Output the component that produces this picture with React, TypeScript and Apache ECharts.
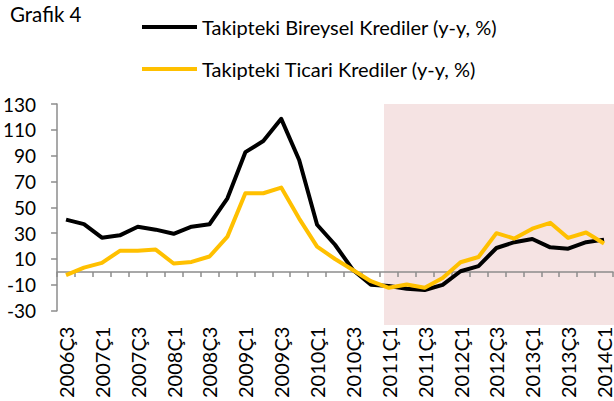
import React, { useEffect, useRef } from "react";
import * as echarts from "echarts";

const categories: string[] = [
  "2006Ç3", "2006Ç4", "2007Ç1", "2007Ç2", "2007Ç3", "2007Ç4", "2008Ç1", "2008Ç2",
  "2008Ç3", "2008Ç4", "2009Ç1", "2009Ç2", "2009Ç3", "2009Ç4", "2010Ç1", "2010Ç2",
  "2010Ç3", "2010Ç4", "2011Ç1", "2011Ç2", "2011Ç3", "2011Ç4", "2012Ç1", "2012Ç2",
  "2012Ç3", "2012Ç4", "2013Ç1", "2013Ç2", "2013Ç3", "2013Ç4", "2014C1",
];

const bireysel: number[] = [
  40.5, 37, 26.5, 28.3, 35, 32.7, 29.5, 35, 36.9, 57, 92.7, 101.3, 118.5, 86.6, 36.5, 21,
  1.5, -10, -11, -13, -14, -10, 0.5, 4.5, 18.5, 23, 25.5, 19, 18, 23, 25,
];

const ticari: number[] = [
  -2.5, 3.3, 7, 16.3, 16.3, 17.3, 6.5, 7.7, 11.9, 27.3, 60.9, 60.9, 65.3, 41.3, 19.6, 10,
  1.5, -7.2, -12.3, -9.7, -12.3, -4.7, 7.5, 11.5, 30, 25.8, 33.5, 38, 26.3, 30.5, 22,
];

const seriesNames: string[] = [
  "Takipteki Bireysel Krediler (y-y, %)",
  "Takipteki Ticari Krediler (y-y, %)",
];

const FONT = "Lato";

export default function App() {
  const ref = useRef<HTMLDivElement>(null);
  useEffect(() => {
    document.body.style.margin = "0";
    const chart = echarts.init(ref.current!, null, { renderer: "svg" });
    chart.setOption({
      animation: false,
      backgroundColor: "#ffffff",
      textStyle: { fontFamily: FONT, color: "#000" },
      title: {
        text: "Grafik 4",
        left: 10,
        top: 3,
        padding: 0,
        textStyle: { fontFamily: FONT, fontSize: 20.5, fontWeight: "normal", color: "#000" },
      },
      legend: {
        orient: "vertical",
        left: 142,
        top: 17,
        padding: 0,
        itemWidth: 55,
        itemHeight: 4,
        itemGap: 22,
        icon: "rect",
        textStyle: { fontFamily: FONT, fontSize: 20, color: "#000", lineHeight: 20 },
        data: seriesNames,
      },
      graphic: [
        {
          type: "rect",
          z: -10,
          shape: { x: 384, y: 104, width: 230, height: 221 },
          style: { fill: "#F5E3E3" },
          silent: true,
        },
      ],
      grid: { left: 56, right: 0, top: 104, bottom: 82, containLabel: false },
      xAxis: [
        {
          type: "category",
          data: categories,
          boundaryGap: true,
          position: "bottom",
          axisLine: { show: false, onZero: false },
          axisTick: { show: false },
          axisLabel: {
            interval: 1,
            rotate: 90,
            margin: 16,
            fontFamily: FONT,
            fontSize: 20,
            color: "#000",
          },
        },
        {
          type: "category",
          data: categories,
          boundaryGap: true,
          position: "bottom",
          axisLine: { show: true, onZero: true, lineStyle: { color: "#8c8c8c", width: 1.5 } },
          axisTick: { show: true, interval: 0, length: 5, lineStyle: { color: "#8c8c8c", width: 1.5 } },
          axisLabel: { show: false },
        },
      ],
      yAxis: {
        type: "value",
        min: -30,
        max: 130,
        interval: 20,
        splitLine: { show: false },
        axisLine: { show: true, lineStyle: { color: "#8c8c8c", width: 1.5 } },
        axisTick: { show: true, length: 6, lineStyle: { color: "#8c8c8c", width: 1.5 } },
        axisLabel: { margin: 21, fontFamily: FONT, fontSize: 19, color: "#000" },
      },
      series: [
        {
          name: seriesNames[0],
          type: "line",
          data: bireysel,
          showSymbol: false,
          symbol: "none",
          lineStyle: { color: "#000000", width: 4, join: "round" },
          itemStyle: { color: "#000000" },
          z: 3,
        },
        {
          name: seriesNames[1],
          type: "line",
          data: ticari,
          showSymbol: false,
          symbol: "none",
          lineStyle: { color: "#FFC000", width: 4, join: "round" },
          itemStyle: { color: "#FFC000" },
          z: 4,
        },
      ],
    });
    return () => chart.dispose();
  }, []);
  return <div ref={ref} style={{ width: 614, height: 401 }} />;
}
